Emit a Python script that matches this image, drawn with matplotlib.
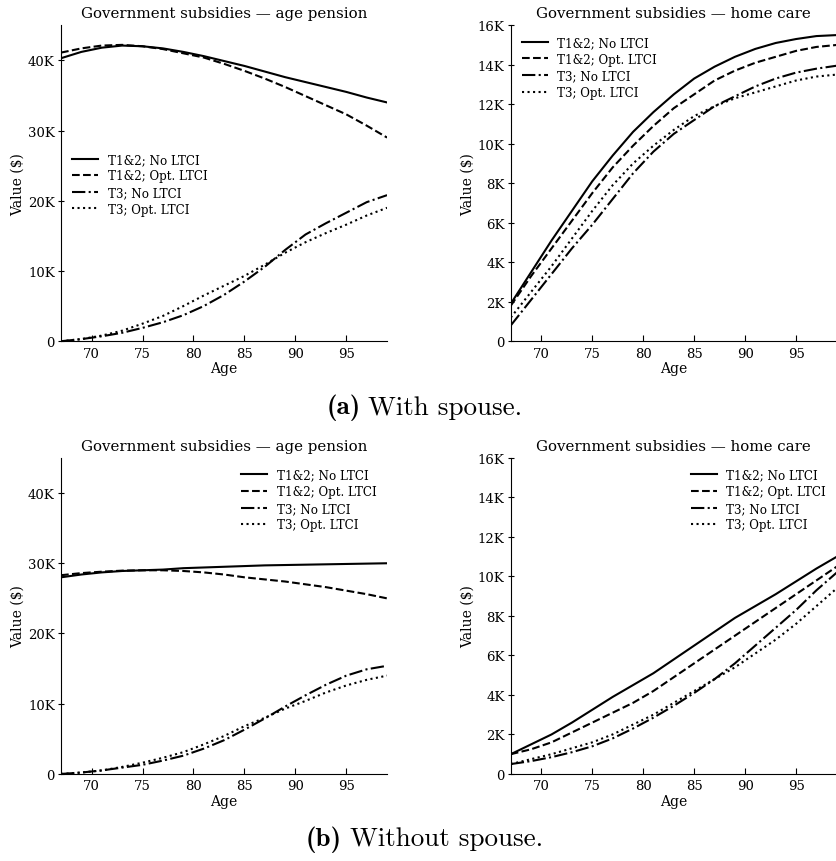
import numpy as np
import matplotlib
matplotlib.use("Agg")
import matplotlib.pyplot as plt
from matplotlib.ticker import FuncFormatter

plt.rcParams['font.family'] = ['DejaVu Serif']
plt.rcParams['axes.unicode_minus'] = False

# ages at which values were read
ages = [67, 69, 71, 73, 75, 77, 79, 81, 83, 85, 87, 89, 91, 93, 95, 97, 99]
labels = ["T1&2; No LTCI", "T1&2; Opt. LTCI", "T3; No LTCI", "T3; Opt. LTCI"]

# (a) with spouse, age pension (thousands $)
a_pen_t12_no = [40.3, 41.2, 41.8, 42.1, 42.0, 41.7, 41.2, 40.6, 39.9, 39.2, 38.4, 37.6, 36.9, 36.2, 35.5, 34.7, 34.0]
a_pen_t12_opt = [41.1, 41.7, 42.1, 42.2, 42.0, 41.6, 41.0, 40.4, 39.5, 38.5, 37.4, 36.2, 34.9, 33.6, 32.3, 30.7, 29.0]
a_pen_t3_no = [0.0, 0.3, 0.7, 1.2, 1.9, 2.7, 3.7, 5.0, 6.6, 8.5, 10.6, 13.0, 15.2, 16.8, 18.3, 19.8, 20.8]
a_pen_t3_opt = [0.0, 0.3, 0.8, 1.5, 2.5, 3.6, 5.0, 6.5, 7.9, 9.3, 10.9, 12.6, 14.1, 15.4, 16.6, 17.9, 19.0]

# (a) with spouse, home care
a_hc_t12_no = [1.9, 3.5, 5.1, 6.6, 8.1, 9.4, 10.6, 11.6, 12.5, 13.3, 13.9, 14.4, 14.8, 15.1, 15.3, 15.45, 15.5]
a_hc_t12_opt = [1.8, 3.3, 4.7, 6.1, 7.5, 8.8, 9.9, 10.9, 11.8, 12.5, 13.2, 13.7, 14.1, 14.4, 14.7, 14.9, 15.0]
a_hc_t3_no = [0.8, 2.1, 3.4, 4.7, 5.9, 7.2, 8.5, 9.6, 10.5, 11.2, 11.9, 12.4, 12.9, 13.3, 13.6, 13.8, 13.95]
a_hc_t3_opt = [1.2, 2.5, 3.8, 5.2, 6.6, 7.9, 9.0, 9.9, 10.7, 11.4, 11.9, 12.3, 12.6, 12.9, 13.2, 13.4, 13.5]

# (b) without spouse, age pension
b_pen_t12_no = [28.0, 28.4, 28.7, 28.9, 29.0, 29.1, 29.3, 29.4, 29.5, 29.6, 29.7, 29.75, 29.8, 29.85, 29.9, 29.95, 30.0]
b_pen_t12_opt = [28.3, 28.6, 28.8, 28.95, 29.0, 29.0, 28.9, 28.7, 28.4, 28.0, 27.7, 27.4, 27.0, 26.6, 26.1, 25.6, 25.0]
b_pen_t3_no = [0.0, 0.2, 0.5, 0.9, 1.3, 1.9, 2.6, 3.6, 4.8, 6.3, 7.9, 9.6, 11.2, 12.7, 14.0, 14.9, 15.4]
b_pen_t3_opt = [0.0, 0.2, 0.5, 1.0, 1.6, 2.3, 3.1, 4.2, 5.4, 6.8, 8.0, 9.3, 10.4, 11.6, 12.6, 13.4, 14.0]

# (b) without spouse, home care
b_hc_t12_no = [1.0, 1.5, 2.0, 2.6, 3.25, 3.9, 4.5, 5.1, 5.8, 6.5, 7.2, 7.9, 8.5, 9.1, 9.75, 10.4, 11.0]
b_hc_t12_opt = [1.0, 1.25, 1.6, 2.1, 2.6, 3.1, 3.6, 4.2, 4.9, 5.6, 6.3, 7.0, 7.7, 8.4, 9.1, 9.8, 10.5]
b_hc_t3_no = [0.5, 0.65, 0.85, 1.1, 1.4, 1.8, 2.3, 2.85, 3.45, 4.1, 4.8, 5.6, 6.5, 7.4, 8.3, 9.3, 10.2]
b_hc_t3_opt = [0.5, 0.75, 1.0, 1.3, 1.6, 2.0, 2.5, 3.0, 3.6, 4.2, 4.8, 5.4, 6.1, 6.8, 7.6, 8.5, 9.4]

styles = ['-', '--', '-.', ':']


def kfmt(v, pos):
    return "0" if v == 0 else f"{int(round(v / 1000))}K"


def panel(ax, series, title, ylim, yticks, legend_kw):
    for s, ls, lab in zip(series, styles, labels):
        ax.plot(ages, np.array(s) * 1000, color='black', linestyle=ls, lw=1.5, label=lab)
    ax.set_title(title, fontsize=10.8, pad=6)
    ax.set_xlim(67, 99)
    ax.set_ylim(*ylim)
    ax.set_xticks([70, 75, 80, 85, 90, 95])
    ax.set_yticks(yticks)
    ax.yaxis.set_major_formatter(FuncFormatter(kfmt))
    ax.set_xlabel("Age", fontsize=10, labelpad=1)
    ax.set_ylabel("Value ($)", fontsize=10, labelpad=2)
    ax.spines['top'].set_visible(False)
    ax.spines['right'].set_visible(False)
    ax.tick_params(axis='x', direction='in', length=4, labelsize=9.5, pad=4)
    ax.tick_params(axis='y', direction='inout', length=5, labelsize=9.5, pad=2)
    ax.legend(frameon=False, fontsize=8.6, handlelength=2.2, labelspacing=0.3, **legend_kw)


fig = plt.figure(figsize=(8.36, 8.62), dpi=100)
w, h = 0.390, 0.3666
ax1 = fig.add_axes([0.073, 0.603, w, h])
ax2 = fig.add_axes([0.611, 0.603, w, h])
ax3 = fig.add_axes([0.073, 0.101, w, h])
ax4 = fig.add_axes([0.611, 0.101, w, h])

pen_ticks = [0, 10000, 20000, 30000, 40000]
hc_ticks = list(range(0, 16001, 2000))

panel(ax1, [a_pen_t12_no, a_pen_t12_opt, a_pen_t3_no, a_pen_t3_opt],
      "Government subsidies — age pension", (0, 45000), pen_ticks,
      dict(loc='upper left', bbox_to_anchor=(0.0, 0.63)))
panel(ax2, [a_hc_t12_no, a_hc_t12_opt, a_hc_t3_no, a_hc_t3_opt],
      "Government subsidies — home care", (0, 16000), hc_ticks,
      dict(loc='upper left', bbox_to_anchor=(0.0, 1.0)))
panel(ax3, [b_pen_t12_no, b_pen_t12_opt, b_pen_t3_no, b_pen_t3_opt],
      "Government subsidies — age pension", (0, 45000), pen_ticks,
      dict(loc='upper right', bbox_to_anchor=(1.0, 1.0)))
panel(ax4, [b_hc_t12_no, b_hc_t12_opt, b_hc_t3_no, b_hc_t3_opt],
      "Government subsidies — home care", (0, 16000), hc_ticks,
      dict(loc='upper right', bbox_to_anchor=(1.0, 1.0)))

# sub-captions in Computer Modern (bold label + roman text)
fig.text(361 / 836, 0.527, "(a)", family='cmb10', ha='right', va='center', fontsize=19.5)
fig.text(368 / 836, 0.527, "With spouse.", family='cmr10', ha='left', va='center', fontsize=19.5)
fig.text(342 / 836, 0.026, "(b)", family='cmb10', ha='right', va='center', fontsize=19.5)
fig.text(350 / 836, 0.026, "Without spouse.", family='cmr10', ha='left', va='center', fontsize=19.5)

fig.savefig("out.png", dpi=100)
